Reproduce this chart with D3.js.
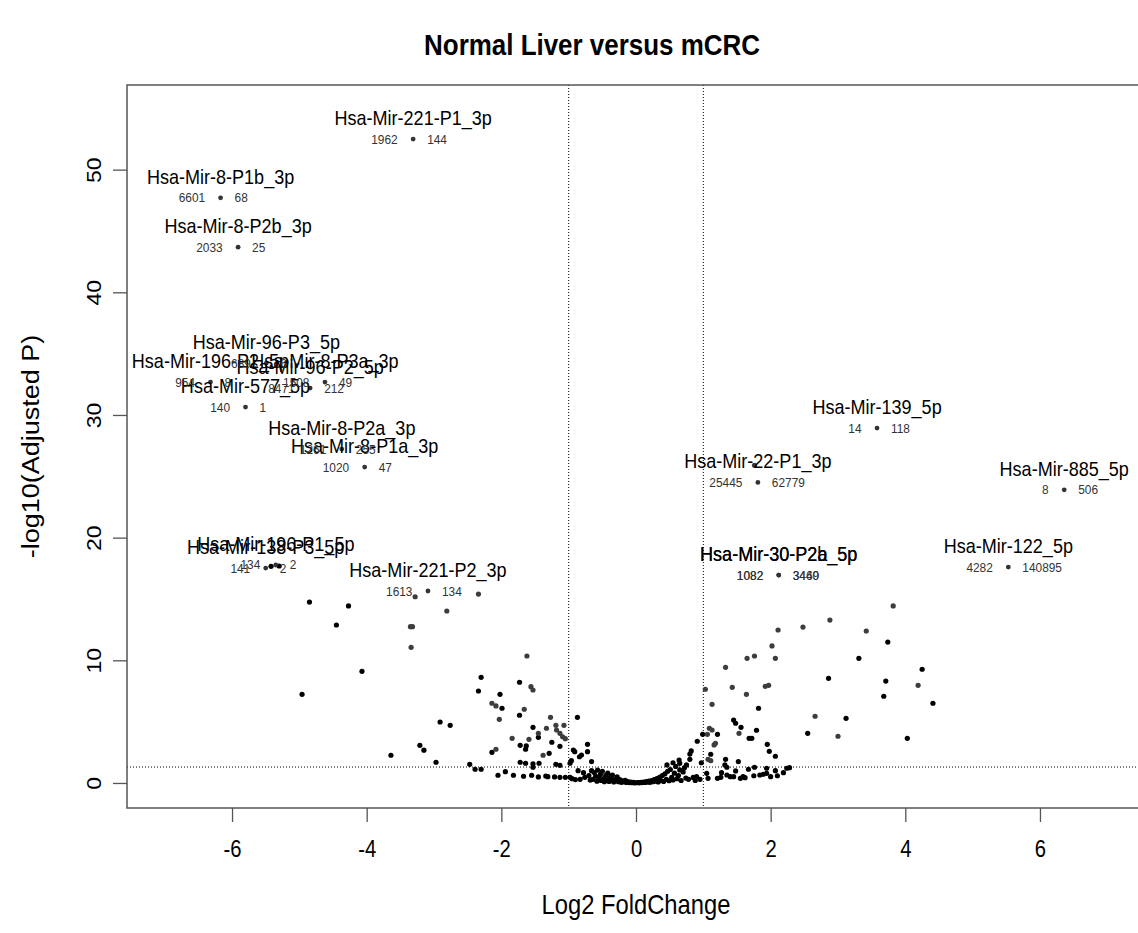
<!DOCTYPE html>
<html>
<head>
<meta charset="utf-8">
<script src="https://cdn.jsdelivr.net/npm/d3@7"></script>
<style>
  body { margin: 0; background: #fff; }
  svg { display: block; font-family: "Liberation Sans", Arial, Helvetica, sans-serif; }
</style>
</head>
<body>
<svg id="chart" width="1138" height="933"></svg>
<script>
// ---- data -------------------------------------------------------------
const chartTitle = "Normal Liver versus mCRC";
const xTitle = "Log2 FoldChange";
const yTitle = "-log10(Adjusted P)";
const xTicks = [-6, -4, -2, 0, 2, 4, 6];
const yTicks = [0, 10, 20, 30, 40, 50];
const foldCutoff = 1;          // |log2 FC| threshold
const padjCutoff = 0.05;       // adjusted p threshold

// miRNAs without a label: [log2 fold change, -log10 adjusted p]
const darkPoints = [
  [-4.85,14.75],[-4.27,14.43],[-4.45,12.88],[-4.07,9.10],[-4.96,7.23],[-2.30,8.61],[-2.34,7.50],
  [-1.73,8.21],[-2.02,7.23],[-1.99,6.09],[-1.73,5.52],[-2.91,4.97],[-2.76,4.70],[-0.87,5.35],
  [-1.53,4.54],[-1.45,3.72],[-1.25,3.32],[-1.72,3.07],[-1.63,3.02],[-1.64,2.75],[-1.13,2.99],
  [-3.21,3.07],[-3.15,2.67],[-3.64,2.26],[-2.14,2.50],[-1.29,2.42],[-2.97,1.69],[-2.47,1.52],
  [-2.39,1.12],[-2.30,1.12],[-1.72,1.69],[-1.64,1.61],[-1.53,1.55],[-1.53,1.28],[-1.44,1.61],
  [-1.19,1.52],[-1.13,1.44],[-2.05,0.63],[-1.94,0.92],[-1.82,0.63],[-1.67,0.55],[-1.55,0.63],
  [-1.45,0.49],[-1.34,0.57],[-1.31,0.51],[-1.21,0.49],[-1.13,0.46],[-1.05,0.46],[-0.98,0.46],
  [-0.93,2.69],[-0.91,2.55],[-0.84,2.14],[-0.81,2.28],[-0.72,3.15],[-0.72,2.55],[-0.96,1.82],
  [-0.98,1.61],[-0.86,1.00],[-0.78,0.84],[-0.66,1.74],[-0.76,0.46],[-0.68,0.24],
  [-5.42,17.66],[-5.30,17.69],
  [3.74,11.49],[3.31,10.16],[4.25,9.27],[2.86,8.53],[3.71,8.31],[3.68,7.07],[4.41,6.50],
  [1.82,6.09],[3.12,5.27],[1.45,5.13],[1.48,4.87],[1.56,4.54],[1.79,4.30],[2.55,4.05],
  [4.03,3.64],[1.68,3.64],[1.72,3.64],[1.21,3.97],[0.99,3.97],[1.95,3.15],[1.98,2.58],
  [2.07,2.18],[0.91,3.40],[0.82,2.61],[0.80,2.36],[1.11,2.34],[0.97,1.65],[1.33,1.93],
  [1.52,1.74],[1.32,1.47],[1.35,1.28],[1.48,0.98],[1.27,0.84],[1.67,1.12],[1.76,1.28],
  [1.94,1.20],[2.07,1.00],[2.19,0.84],[2.24,1.20],[2.28,1.25],[1.75,0.59],[1.84,0.65],
  [1.94,0.79],[2.00,0.51],[2.10,0.59],[1.21,0.38],[1.26,0.46],[1.40,0.51],[1.55,0.38],
  [1.62,0.43],[1.07,0.38],[0.95,0.30],[0.90,0.51],[0.75,1.47],[0.55,1.65],[0.64,1.87],
  [0.65,1.06],[0.46,1.47],[1.05,0.79],[1.45,0.51],[1.89,0.71],[1.59,0.51],[0.80,1.93],
  [1.35,0.65],[0.78,0.30],[0.85,0.45],[0.88,0.20],
  [-0.95,0.35],[-0.90,0.28],[-0.83,0.30],[-0.70,0.60],[-0.66,1.00],
  // low-change cloud around zero
  [-0.64,0.30],[-0.62,0.85],[-0.60,0.55],[-0.58,0.15],[-0.57,1.05],[-0.55,0.40],[-0.53,0.70],
  [-0.52,0.20],[-0.50,0.95],[-0.48,0.35],[-0.47,0.10],[-0.45,0.60],[-0.43,0.25],[-0.42,0.80],
  [-0.40,0.12],[-0.38,0.45],[-0.36,0.22],[-0.35,0.65],[-0.33,0.08],[-0.31,0.30],[-0.29,0.18],
  [-0.28,0.50],[-0.26,0.10],[-0.24,0.28],[-0.22,0.05],[-0.20,0.18],[-0.18,0.08],[-0.16,0.22],
  [-0.14,0.04],[-0.12,0.12],[-0.10,0.03],[-0.08,0.08],[-0.06,0.02],[-0.04,0.05],[-0.02,0.01],
  [0.01,0.02],[0.03,0.04],[0.05,0.01],[0.07,0.06],[0.09,0.03],[0.11,0.08],[0.13,0.04],
  [0.15,0.12],[0.17,0.06],[0.19,0.15],[0.21,0.05],[0.23,0.20],[0.25,0.10],[0.27,0.28],
  [0.29,0.15],[0.31,0.35],[0.33,0.08],[0.35,0.45],[0.37,0.20],[0.39,0.60],[0.41,0.12],
  [0.43,0.75],[0.45,0.30],[0.47,0.95],[0.49,0.18],[0.51,1.10],[0.53,0.45],[0.55,0.25],
  [0.57,0.80],[0.59,1.35],[0.61,0.35],[0.63,0.60],[0.65,1.60],[0.67,0.20],[0.70,0.90],
  [0.72,1.25],[0.74,0.40]
];
const greyPoints = [
  [-3.35,12.74],[-3.32,12.74],[-3.34,11.06],[-2.81,14.02],[-2.34,15.40],[-3.28,15.18],
  [-1.62,10.35],[-1.56,7.85],[-1.53,7.58],[-2.14,6.50],[-2.08,6.28],[-1.66,6.01],[-2.03,5.19],
  [-1.27,5.35],[-1.33,4.46],[-1.19,4.70],[-1.07,4.70],[-1.45,4.05],[-1.18,4.32],[-1.13,4.05],
  [-1.09,3.77],[-1.05,3.61],[-1.84,3.64],[-1.59,3.56],[-2.08,2.75],[-1.38,2.26],
  [3.82,14.43],[2.88,13.28],[2.48,12.71],[2.11,12.47],[3.42,12.39],[2.02,11.17],[1.65,10.16],
  [1.76,10.35],[2.07,10.16],[1.33,9.43],[1.43,7.80],[1.92,7.88],[1.97,7.96],[4.19,7.96],
  [1.64,7.23],[1.03,7.64],[1.13,6.41],[2.66,5.44],[1.53,4.05],[3.00,3.81],[1.09,4.46],
  [1.13,4.32],[1.06,3.97],[1.18,3.24],[1.16,3.10],[1.07,1.93],[1.11,1.82],[1.76,25.9]
];

// labelled miRNAs
const labelNames = [
  "Hsa-Mir-221-P1_3p", "Hsa-Mir-8-P1b_3p", "Hsa-Mir-8-P2b_3p", "Hsa-Mir-96-P3_5p",
  "Hsa-Mir-196-P2_5p", "Hsa-Mir-8-P3a_3p", "Hsa-Mir-96-P2_5p", "Hsa-Mir-577_5p",
  "Hsa-Mir-8-P2a_3p", "Hsa-Mir-8-P1a_3p", "Hsa-Mir-196-P1_5p", "Hsa-Mir-138-P3_5p",
  "Hsa-Mir-221-P2_3p", "Hsa-Mir-139_5p", "Hsa-Mir-22-P1_3p", "Hsa-Mir-885_5p",
  "Hsa-Mir-30-P2a_5p", "Hsa-Mir-30-P2b_5p", "Hsa-Mir-122_5p"
];
const labelFC = [-3.31, -6.17, -5.91, -5.49, -6.32, -4.62, -4.84, -5.80, -4.37, -4.03,
                 -5.35, -5.50, -3.09, 3.58, 1.81, 6.36, 2.12, 2.12, 5.53];
const labelP  = [52.49, 47.70, 43.68, 34.23, 32.68, 32.68, 32.19, 30.64, 27.22, 25.75,
                 17.77, 17.52, 15.65, 28.93, 24.50, 23.90, 16.95, 16.95, 17.60];
const countsLiver = ["1962", "6601", "2033", "689", "954", "1508", "8471", "140", "1261", "1020",
                     "134", "141", "1613", "14", "25445", "8", "1082", "1082", "4282"];
const countsCRC   = ["144", "68", "25", "6", "8", "49", "212", "1", "255", "47",
                     "2", "2", "134", "118", "62779", "506", "3449", "3460", "140895"];

// ---- layout -----------------------------------------------------------
const SX = 0.88;   // horizontal text compression of the device
const svg = d3.select("#chart");
const x = d3.scaleLinear().domain([-7.56, 7.56]).range([127, 1145]);
const y = d3.scaleLinear().domain([-2.04, 56.9]).range([808, 85]);
const [L, R] = x.range(), [B, T] = y.range();
const plain = d => String(d);   // ASCII hyphen for negative ticks

// title
svg.append("text")
  .attr("transform", `translate(592,55) scale(${SX},1)`)
  .attr("text-anchor", "middle").attr("font-size", 29.5).attr("font-weight", "bold")
  .attr("fill", "#000").text(chartTitle);

// threshold guides
const guides = svg.append("g").attr("stroke", "#000").attr("stroke-width", 1)
  .attr("stroke-dasharray", "1,2").attr("fill", "none");
[-foldCutoff, foldCutoff].forEach(v =>
  guides.append("line").attr("x1", x(v)).attr("x2", x(v)).attr("y1", T).attr("y2", B));
guides.append("line").attr("x1", L).attr("x2", R)
  .attr("y1", y(-Math.log10(padjCutoff))).attr("y2", y(-Math.log10(padjCutoff)));

// axes
const xAxis = svg.append("g").attr("transform", `translate(0,${B})`)
  .call(d3.axisBottom(x).tickValues(xTicks).tickSize(14).tickPadding(0).tickFormat(plain));
xAxis.select(".domain").remove();
xAxis.selectAll("line").attr("stroke", "#555").attr("stroke-width", 1.3);
xAxis.selectAll("text").attr("y", 0).attr("dy", 0)
  .attr("transform", `translate(0,49) scale(${SX},1)`)
  .attr("font-size", 23).attr("fill", "#000").attr("font-family", null);

const yAxis = svg.append("g").attr("transform", `translate(${L},0)`)
  .call(d3.axisLeft(y).tickValues(yTicks).tickSize(14).tickPadding(0).tickFormat(plain));
yAxis.select(".domain").remove();
yAxis.selectAll("line").attr("stroke", "#555").attr("stroke-width", 1.3);
yAxis.selectAll("text").attr("x", 0).attr("dy", 0).attr("text-anchor", "middle")
  .attr("transform", `translate(-26,0) scale(${SX},1) rotate(-90)`)
  .attr("font-size", 23).attr("fill", "#000").attr("font-family", null);

// axis titles
svg.append("text")
  .attr("transform", `translate(${(L + R) / 2},914) scale(${SX},1)`)
  .attr("text-anchor", "middle").attr("font-size", 27).attr("fill", "#000").text(xTitle);
svg.append("text")
  .attr("transform", `translate(39,${(T + B) / 2}) scale(${SX},1) rotate(-90)`)
  .attr("text-anchor", "middle").attr("font-size", 27).attr("fill", "#000").text(yTitle);

// plot frame
svg.append("rect").attr("x", L).attr("y", T).attr("width", R - L).attr("height", B - T)
  .attr("fill", "none").attr("stroke", "#555").attr("stroke-width", 1.5);

// points
const pts = svg.append("g");
pts.selectAll("circle.dark").data(darkPoints).join("circle").attr("class", "dark")
  .attr("cx", d => x(d[0])).attr("cy", d => y(d[1])).attr("r", 2.6).attr("fill", "#000");
pts.selectAll("circle.grey").data(greyPoints).join("circle").attr("class", "grey")
  .attr("cx", d => x(d[0])).attr("cy", d => y(d[1])).attr("r", 2.6).attr("fill", "#3d3d3d");

// labelled points with name above and read counts on each side
const labels = labelNames.map((n, i) => ({ name: n, fc: labelFC[i], p: labelP[i],
  liver: countsLiver[i], crc: countsCRC[i] }));
const lab = svg.append("g");
lab.selectAll("circle").data(labels).join("circle")
  .attr("cx", d => x(d.fc)).attr("cy", d => y(d.p)).attr("r", 2.4).attr("fill", "#333");
lab.selectAll("text.name").data(labels).join("text").attr("class", "name")
  .attr("transform", d => `translate(${x(d.fc)},${y(d.p) - 14}) scale(${SX},1)`)
  .attr("text-anchor", "middle").attr("font-size", 20.5).attr("fill", "#000").text(d => d.name);
lab.selectAll("text.liver").data(labels).join("text").attr("class", "liver")
  .attr("transform", d => `translate(${x(d.fc) - 15.5},${y(d.p) + 4.5}) scale(${SX},1)`)
  .attr("text-anchor", "end").attr("font-size", 13.5).attr("fill", "#333").text(d => d.liver);
lab.selectAll("text.crc").data(labels).join("text").attr("class", "crc")
  .attr("transform", d => `translate(${x(d.fc) + 14},${y(d.p) + 4.5}) scale(${SX},1)`)
  .attr("text-anchor", "start").attr("font-size", 13.5).attr("fill", "#333").text(d => d.crc);
</script>
</body>
</html>
